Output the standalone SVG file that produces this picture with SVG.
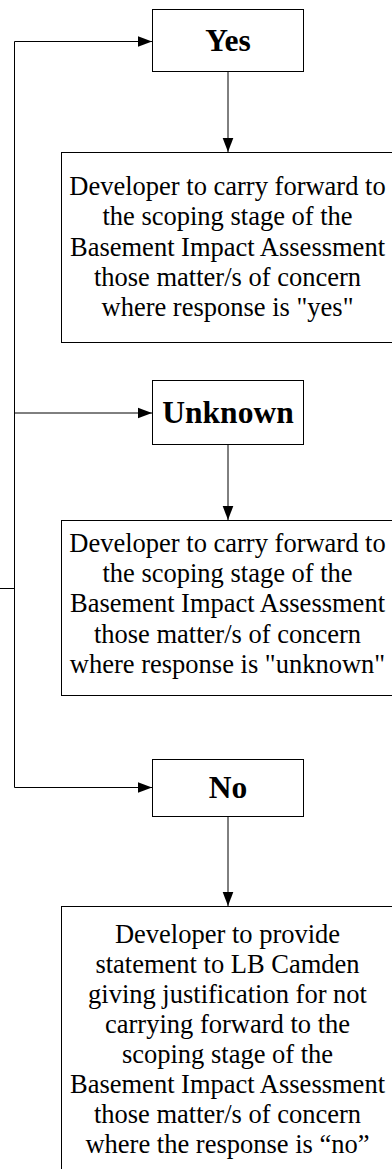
<svg xmlns="http://www.w3.org/2000/svg" width="392" height="1169" viewBox="0 0 392 1169">
<style>
.box{fill:#fff;stroke:#000;stroke-width:1}
.ln{fill:none;stroke:#000;stroke-width:1}
.arr{marker-end:url(#ah)}
.lbl{font-family:"Liberation Serif","Times New Roman",serif;font-weight:bold;font-size:31.5px;text-anchor:middle;fill:#000}
.txt{font-family:"Liberation Serif","Times New Roman",serif;font-size:26.5px;text-anchor:middle;fill:#000}
</style>
<defs>
<marker id="ah" markerUnits="userSpaceOnUse" markerWidth="15" markerHeight="12" refX="14.5" refY="6" orient="auto">
<path d="M0,0.5 L14.5,6 L0,11.5 Z" fill="#000"/>
</marker>
</defs>
<rect width="392" height="1169" fill="#fff"/>
<g id="connectors">
<path class="ln" d="M0,588.5 H14.5"/>
<path class="ln" d="M14.5,41.5 V787.5"/>
<path class="ln arr" d="M14.5,41.5 H152"/>
<path class="ln arr" d="M14.5,413 H152"/>
<path class="ln arr" d="M14.5,787.5 H152"/>
<path class="ln arr" d="M228,72 V152"/>
<path class="ln arr" d="M228,445 V520"/>
<path class="ln arr" d="M228,817 V906"/>
</g>
<g id="yes">
<rect class="box" x="152.5" y="9.5" width="151" height="62"/>
<text class="lbl" x="228" y="51">Yes</text>
</g>
<g id="yes-action">
<rect class="box" x="61.5" y="152.5" width="340" height="190"/>
<text class="txt" x="227.5" y="195">Developer to carry forward to</text>
<text class="txt" x="227.5" y="225.3">the scoping stage of the</text>
<text class="txt" x="227.5" y="255.6">Basement Impact Assessment</text>
<text class="txt" x="227.5" y="285.9">those matter/s of concern</text>
<text class="txt" x="227.5" y="316.2">where response is "yes"</text>
</g>
<g id="unknown">
<rect class="box" x="152.5" y="380.5" width="151" height="64"/>
<text class="lbl" x="228" y="423.3">Unknown</text>
</g>
<g id="unknown-action">
<rect class="box" x="61.5" y="520.5" width="340" height="175"/>
<text class="txt" x="227.5" y="551.7">Developer to carry forward to</text>
<text class="txt" x="227.5" y="582">the scoping stage of the</text>
<text class="txt" x="227.5" y="612.3">Basement Impact Assessment</text>
<text class="txt" x="227.5" y="642.6">those matter/s of concern</text>
<text class="txt" x="227.5" y="672.9">where response is "unknown"</text>
</g>
<g id="no">
<rect class="box" x="152.5" y="759.5" width="151" height="57"/>
<text class="lbl" x="228" y="797.5">No</text>
</g>
<g id="no-action">
<rect class="box" x="61.5" y="906.5" width="340" height="280"/>
<text class="txt" x="227.5" y="943">Developer to provide</text>
<text class="txt" x="227.5" y="973">statement to LB Camden</text>
<text class="txt" x="227.5" y="1003">giving justification for not</text>
<text class="txt" x="227.5" y="1033">carrying forward to the</text>
<text class="txt" x="227.5" y="1063">scoping stage of the</text>
<text class="txt" x="227.5" y="1093">Basement Impact Assessment</text>
<text class="txt" x="227.5" y="1123">those matter/s of concern</text>
<text class="txt" x="227.5" y="1153">where the response is “no”</text>
</g>
</svg>
